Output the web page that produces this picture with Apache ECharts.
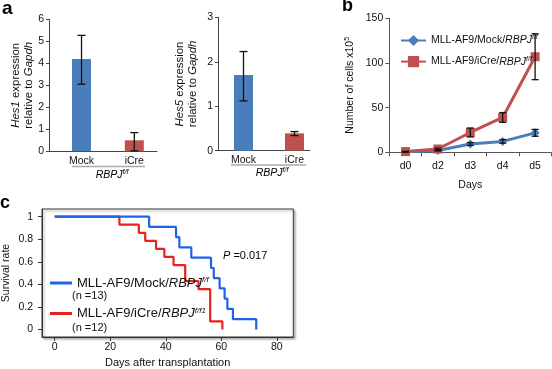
<!DOCTYPE html>
<html>
<head>
<meta charset="UTF-8" />
<title></title>
<style type="text/css">
  * { margin: 0; padding: 0; }
  #main { width: 552px; height: 369px; background: #fff; }
</style>
</head>
<body>
<div id="main"></div>
<script src="https://cdn.jsdelivr.net/npm/echarts@6/dist/echarts.min.js"></script>
<script type="text/javascript">
  // panel a
  var catsA = ['Mock', 'iCre'];
  var hes1Mean = [4.2, 0.5];
  var hes1Low = [3.05, 0.02];
  var hes1High = [5.27, 0.85];
  var hes5Mean = [1.7, 0.39];
  var hes5Low = [1.12, 0.34];
  var hes5High = [2.23, 0.43];
  // panel b
  var days = ['d0', 'd2', 'd3', 'd4', 'd5'];
  var mockCells = [0.5, 2, 9.3, 12.2, 21.8];
  var mockErr = [0.3, 0.5, 1.5, 2, 3.8];
  var icreCells = [0.8, 3.7, 22.2, 39, 107];
  var icreErr = [0.3, 1, 5, 5.5, 25.7];
  // panel c (Kaplan-Meier)
  var mockDays = [0, 34, 43.7, 44.9, 49.2, 56.3, 57.3, 59.4, 61.2, 62.2, 64.2, 72.6];
  var mockSurv = [1, 0.909, 0.818, 0.727, 0.636, 0.545, 0.455, 0.364, 0.273, 0.182, 0.091, 0];
  var icreDays = [0, 23.3, 30.3, 32.6, 36.5, 39.5, 42.8, 47, 51.8, 56, 60.4];
  var icreSurv = [1, 0.929, 0.857, 0.786, 0.714, 0.643, 0.571, 0.429, 0.357, 0.071, 0];
  var survTicks = [0, 0.2, 0.4, 0.6, 0.8, 1];
  var dayTicks = [0, 20, 40, 60, 80];

  var FONT = '"Liberation Sans", Arial, sans-serif';
  var BLUE = '#4a7ebb', RED = '#c0504d';
  var KM_BLUE = '#1f63e6', KM_RED = '#e8201e';

  var rich = {
    t: { fontSize: 10.5, fontFamily: FONT, color: '#111', lineHeight: 13 },
    i: { fontSize: 10.5, fontFamily: FONT, color: '#111', fontStyle: 'italic', lineHeight: 13 },
    s: { fontSize: 7, fontFamily: FONT, color: '#111', fontStyle: 'italic', lineHeight: 8, verticalAlign: 'top' },
    u: { fontSize: 7, fontFamily: FONT, color: '#111', lineHeight: 8, verticalAlign: 'top' }
  };
  // larger axis titles of panel a
  var richA = {
    t: { fontSize: 11.4, fontFamily: FONT, color: '#111', lineHeight: 12.5 },
    i: { fontSize: 11.4, fontFamily: FONT, color: '#111', fontStyle: 'italic', lineHeight: 12.5 }
  };

  function errorBars(capHalf) {
    return function (params, api) {
      var x = api.value(0);
      var lo = api.coord([x, api.value(1)]);
      var hi = api.coord([x, api.value(2)]);
      var st = { stroke: '#111', lineWidth: 1.3 };
      return {
        type: 'group',
        children: [
          { type: 'line', shape: { x1: lo[0], y1: lo[1], x2: hi[0], y2: hi[1] }, style: st },
          { type: 'line', shape: { x1: lo[0] - capHalf, y1: lo[1], x2: lo[0] + capHalf, y2: lo[1] }, style: st },
          { type: 'line', shape: { x1: hi[0] - capHalf, y1: hi[1], x2: hi[0] + capHalf, y2: hi[1] }, style: st }
        ]
      };
    };
  }

  function barData(vals) {
    return vals.map(function (v, i) {
      return { value: [i + 1, v], itemStyle: { color: i === 0 ? BLUE : RED } };
    });
  }
  function errData(lo, hi) {
    return lo.map(function (v, i) { return [i + 1, v, hi[i]]; });
  }
  function kmData(d, s) {
    return d.map(function (v, i) { return [v, s[i]]; });
  }

  var labelStyle = { fontSize: 10.5, fontFamily: FONT, color: '#111' };
  var axisLineDark = { show: true, lineStyle: { color: '#444', width: 1 } };

  function barX(grid, min, max) {
    return {
      type: 'value', gridIndex: grid, min: min, max: max,
      axisLine: axisLineDark, axisTick: { show: false }, splitLine: { show: false },
      axisLabel: {
        customValues: [1, 2], margin: 4, fontSize: 10.5, fontFamily: FONT, color: '#111',
        formatter: function (v) { return catsA[Math.round(v) - 1]; }
      }
    };
  }
  function barY(grid, max, name, gap) {
    return {
      type: 'value', gridIndex: grid, min: 0, max: max, interval: 1,
      axisLine: axisLineDark, axisTick: { show: true, length: 3, lineStyle: { color: '#444' } },
      splitLine: { show: false }, axisLabel: Object.assign({ margin: 5 }, labelStyle),
      name: name, nameLocation: 'middle', nameGap: gap, nameTextStyle: { rich: richA }
    };
  }

  var labels = {
    'b-mock': '{t|MLL-AF9/Mock/}{i|RBPJ}{s|f/f}',
    'b-icre': '{t|MLL-AF9/iCre/}{i|RBPJ}{s|f/f}',
    'c-mock': '{T|MLL-AF9/Mock/}{I|RBPJ}{S|f/f}',
    'c-icre': '{T|MLL-AF9/iCre/}{I|RBPJ}{S|f/f1}'
  };
  var richC = {
    T: { fontSize: 13, fontFamily: FONT, color: '#111', lineHeight: 14 },
    I: { fontSize: 13, fontFamily: FONT, color: '#111', fontStyle: 'italic', lineHeight: 14 },
    S: { fontSize: 8, fontFamily: FONT, color: '#111', fontStyle: 'italic', lineHeight: 8, verticalAlign: 'top' }
  };

  var chart = echarts.init(document.getElementById('main'));
  var option = {
    animation: false,
    backgroundColor: '#fff',
    textStyle: { fontFamily: FONT },
    grid: [
      { left: 49, top: 19.3, width: 108, height: 132 },
      { left: 218, top: 17.3, width: 92, height: 133.4 },
      { left: 389.3, top: 18.3, width: 162, height: 134 },
      { left: 40.7, top: 209, width: 252.6, height: 129.3, show: true, borderColor: '#333', borderWidth: 1,
        backgroundColor: '#fff', shadowColor: 'rgba(0,0,0,0.3)', shadowBlur: 2, shadowOffsetX: 2, shadowOffsetY: 2 }
    ],
    legend: [
      {
        data: ['b-mock', 'b-icre'], left: 395, top: 29, orient: 'vertical',
        itemWidth: 25, itemHeight: 14, itemGap: 9, selectedMode: false,
        formatter: function (n) { return labels[n]; },
        textStyle: { rich: rich }
      },
      {
        data: ['c-mock', 'c-icre'], left: 45, top: 271, orient: 'vertical',
        icon: 'rect', itemWidth: 22, itemHeight: 3, itemGap: 17, selectedMode: false,
        formatter: function (n) { return labels[n]; },
        textStyle: { rich: richC }
      }
    ],
    xAxis: [
      barX(0, 0.384, 2.43),
      barX(1, 0.5, 2.304),
      {
        type: 'category', gridIndex: 2, data: days, boundaryGap: true,
        axisLine: { show: true, lineStyle: { color: '#555' } },
        axisTick: { show: true, length: 4, lineStyle: { color: '#555' } },
        axisLabel: Object.assign({ margin: 8 }, labelStyle),
        name: 'Days', nameLocation: 'middle', nameGap: 27, nameTextStyle: labelStyle
      },
      {
        type: 'value', gridIndex: 3, min: -4.59, max: 85.95,
        axisLine: { show: true, onZero: false, lineStyle: { color: '#333' } },
        axisTick: { show: true, length: 4, customValues: dayTicks, lineStyle: { color: '#333' } },
        axisLabel: Object.assign({ margin: 5, customValues: dayTicks }, labelStyle),
        splitLine: { show: false },
        name: 'Days after transplantation', nameLocation: 'middle', nameGap: 20,
        nameTextStyle: { fontSize: 11, fontFamily: FONT, color: '#111' }
      }
    ],
    yAxis: [
      barY(0, 6, '{i|Hes1}{t| expression}\n{t|relative to }{i|Gapdh}', 13),
      barY(1, 3, '{i|Hes5}{t| expression}\n{t|relative to }{i|Gapdh}', 19),
      {
        type: 'value', gridIndex: 2, min: 0, max: 150, interval: 50,
        axisLine: { show: true, lineStyle: { color: '#555' } },
        axisTick: { show: true, length: 4, lineStyle: { color: '#555' } },
        axisLabel: Object.assign({ margin: 6 }, labelStyle),
        splitLine: { show: false },
        name: '{t|Number of cells x10}{u|5}', nameLocation: 'middle', nameGap: 33,
        nameTextStyle: { rich: rich }
      },
      {
        type: 'value', gridIndex: 3, min: -0.067, max: 1.068,
        axisLine: { show: true, onZero: false, lineStyle: { color: '#333' } },
        axisTick: { show: true, length: 4, customValues: survTicks, lineStyle: { color: '#333' } },
        axisLabel: Object.assign({ margin: 9, customValues: survTicks }, labelStyle),
        splitLine: { show: false },
        name: 'Survival rate', nameLocation: 'middle', nameGap: 30,
        nameTextStyle: { fontSize: 10.5, fontFamily: FONT, color: '#111' }
      }
    ],
    series: [
      { type: 'bar', xAxisIndex: 0, yAxisIndex: 0, barWidth: 19, data: barData(hes1Mean) },
      { type: 'custom', xAxisIndex: 0, yAxisIndex: 0, renderItem: errorBars(4), data: errData(hes1Low, hes1High), z: 5 },
      { type: 'bar', xAxisIndex: 1, yAxisIndex: 1, barWidth: 19, data: barData(hes5Mean) },
      { type: 'custom', xAxisIndex: 1, yAxisIndex: 1, renderItem: errorBars(4), data: errData(hes5Low, hes5High), z: 5 },
      {
        name: 'b-mock', type: 'line', xAxisIndex: 2, yAxisIndex: 2, data: mockCells,
        symbol: 'diamond', symbolSize: 9, color: BLUE, lineStyle: { width: 3, color: BLUE },
        itemStyle: { color: BLUE }
      },
      {
        name: 'b-icre', type: 'line', xAxisIndex: 2, yAxisIndex: 2, data: icreCells,
        symbol: 'rect', symbolSize: 9, color: RED, lineStyle: { width: 3, color: RED },
        itemStyle: { color: RED }
      },
      {
        type: 'custom', xAxisIndex: 2, yAxisIndex: 2, renderItem: errorBars(3.5), z: 5,
        data: mockCells.map(function (v, i) { return [i, v - mockErr[i], v + mockErr[i]]; })
      },
      {
        type: 'custom', xAxisIndex: 2, yAxisIndex: 2, renderItem: errorBars(3.5), z: 5,
        data: icreCells.map(function (v, i) { return [i, v - icreErr[i], v + icreErr[i]]; })
      },
      {
        name: 'c-icre', type: 'line', xAxisIndex: 3, yAxisIndex: 3, step: 'end',
        data: kmData(icreDays, icreSurv), symbol: 'none', color: KM_RED,
        lineStyle: { width: 2.2, color: KM_RED }
      },
      {
        name: 'c-mock', type: 'line', xAxisIndex: 3, yAxisIndex: 3, step: 'end',
        data: kmData(mockDays, mockSurv), symbol: 'none', color: KM_BLUE,
        lineStyle: { width: 2.2, color: KM_BLUE }
      }
    ],
    graphic: [
      { type: 'text', left: 2, top: -1, style: { text: 'a', font: 'bold 19px ' + FONT, fill: '#000' } },
      { type: 'text', left: 342, top: -3, style: { text: 'b', font: 'bold 18px ' + FONT, fill: '#000' } },
      { type: 'text', left: 0, top: 194, style: { text: 'c', font: 'bold 18px ' + FONT, fill: '#000' } },
      { type: 'line', shape: { x1: 72, y1: 166.5, x2: 145, y2: 166.5 }, style: { stroke: '#aaa', lineWidth: 1.5 } },
      { type: 'line', shape: { x1: 231, y1: 165, x2: 306, y2: 165 }, style: { stroke: '#aaa', lineWidth: 1.5 } },
      { type: 'text', x: 112, y: 175, style: { text: '{i|RBPJ}{s|f/f}', rich: rich, align: 'center', verticalAlign: 'middle' } },
      { type: 'text', x: 272, y: 173, style: { text: '{i|RBPJ}{s|f/f}', rich: rich, align: 'center', verticalAlign: 'middle' } },
      { type: 'text', x: 223, y: 256, style: { text: '{I|P}{T| =0.017}', rich: {
          T: { fontSize: 11, fontFamily: FONT, color: '#111' },
          I: { fontSize: 11, fontFamily: FONT, color: '#111', fontStyle: 'italic' } }, verticalAlign: 'middle' } },
      { type: 'text', x: 72, y: 296, style: { text: '(n =13)', font: '11px ' + FONT, fill: '#111', verticalAlign: 'middle' } },
      { type: 'text', x: 72, y: 328, style: { text: '(n =12)', font: '11px ' + FONT, fill: '#111', verticalAlign: 'middle' } }
    ]
  };
  chart.setOption(option);
</script>
</body>
</html>
